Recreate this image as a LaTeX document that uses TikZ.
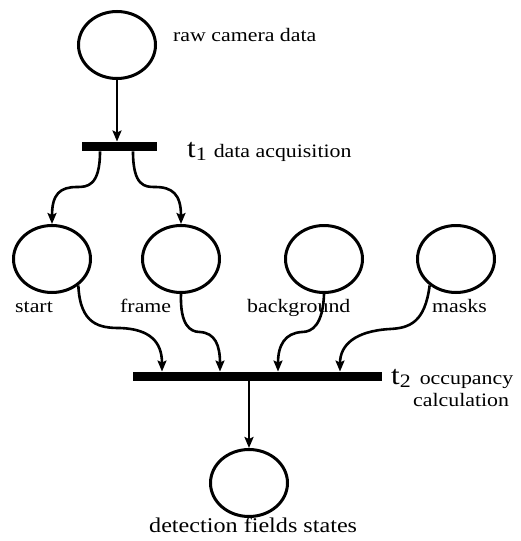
\documentclass[tikz,border=0pt]{standalone}
\usepackage{fontspec}
\setmainfont[FakeStretch=1.15]{Liberation Serif}
\usetikzlibrary{shapes.geometric,arrows.meta}

\tikzset{
  place/.style={ellipse, draw, line width=3pt, minimum width=77pt, minimum height=67pt, inner sep=0pt},
  bar/.style={rectangle, fill=black, inner sep=0pt, minimum height=9.5pt},
  arc/.style={line width=2.6pt, -{Stealth[length=11pt,width=9pt,inset=2pt]}},
  lbl/.style={anchor=base west, inner sep=0pt, font=\fontsize{19}{21}\selectfont},
}

\begin{document}
\begin{tikzpicture}[x=1pt, y=-1pt]
\useasboundingbox (0,0) rectangle (520,541);

% places
\node[place] (raw)   at (117,45)  {};
\node[place] (start) at (52,259)  {};
\node[place] (frame) at (181,259) {};
\node[place] (bg)    at (324,259) {};
\node[place] (masks) at (456,259) {};
\node[place] (det)   at (249,483) {};

% transitions
\node[bar, minimum width=75pt]  (t1) at (119.5,146.5) {};
\node[bar, minimum width=249pt] (t2) at (257.5,376.5) {};

% labels
\node[lbl] (lraw) at (173,41) {raw camera data};
\node[lbl] (lt1) at (187,157) {{\fontsize{27}{27}\selectfont t}\raisebox{-3pt}{1}\hspace{7pt}data acquisition};
\node[lbl] (lstart) at (15,312) {start};
\node[lbl] (lframe) at (120,312) {frame};
\node[lbl] (lbg) at (247,312) {background};
\node[lbl] (lmasks) at (432,312) {masks};
\node[lbl] (lt2) at (391,384) {{\fontsize{27}{27}\selectfont t}\raisebox{-3pt}{2}\hspace{9pt}occupancy};
\node[lbl] (lt2b) at (413,406) {calculation};
\node[lbl, font=\fontsize{21}{23}\selectfont] (ldet) at (149,532) {detection fields states};

% arcs
\draw[arc] (raw.south) -- (raw.south |- t1.north);

\draw[arc] ([xshift=-19.5pt]t1.south) .. controls +(0,35) and +(10,0) .. (77,187)
  .. controls +(-17,0) and +(0,-30) .. (start.north);
\draw[arc] ([xshift=13.5pt]t1.south) .. controls +(0,35) and +(-10,0) .. (155,187)
  .. controls +(17,0) and +(0,-30) .. (frame.north);

\draw[arc] (start.-45) .. controls (80,325) and (100,328) .. (120,328)
  .. controls (150,329) and (162,342) .. ([xshift=-95.5pt]t2.north);
\draw[arc] (frame.south) .. controls (180,325) and (190,332) .. (200,332)
  .. controls (215,333) and (220,345) .. ([xshift=-37.5pt]t2.north);
\draw[arc] (bg.south) .. controls (323,325) and (312,332) .. (302,332)
  .. controls (285,333) and (278,345) .. ([xshift=20.5pt]t2.north);
\draw[arc] (masks.-135) .. controls (425,322) and (410,328) .. (390,329)
  .. controls (355,331) and (340,345) .. ([xshift=82.5pt]t2.north);

\draw[arc] (t2.south -| det.north) -- (det.north);
\end{tikzpicture}
\end{document}
